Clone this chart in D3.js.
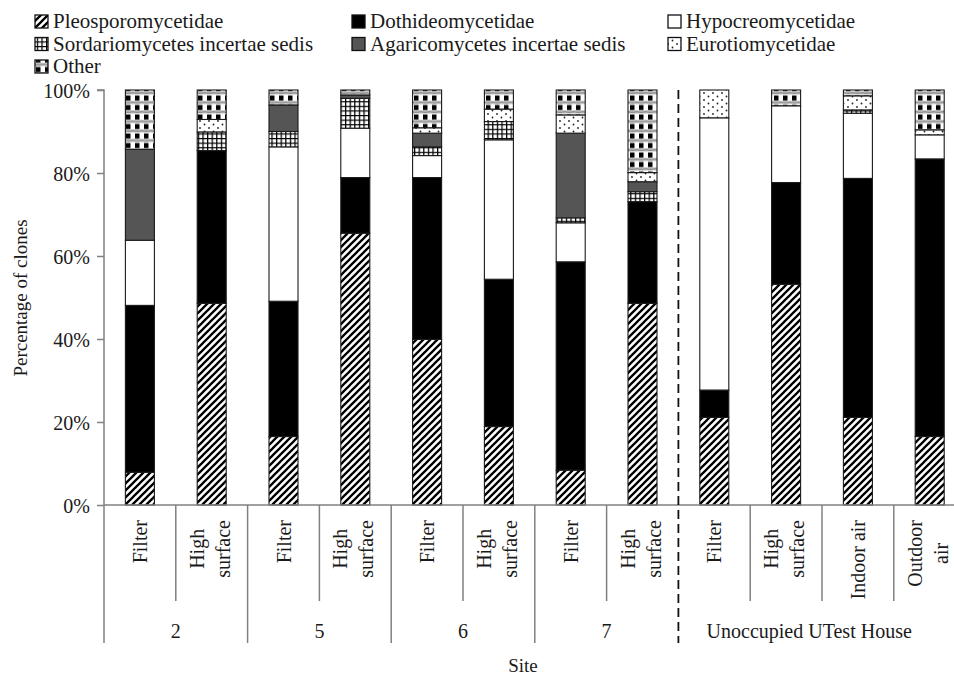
<!DOCTYPE html>
<html>
<head>
<meta charset="utf-8">
<script src="https://cdn.jsdelivr.net/npm/d3@7/dist/d3.min.js"></script>
<style>
  html, body { margin: 0; padding: 0; background: #fff; }
  svg { display: block; }
  text { font-family: "Liberation Serif", "Times New Roman", serif; fill: #1a1a1a; }
</style>
</head>
<body>
<svg id="chart" width="954" height="676"></svg>
<script>
// ---- data ----
const categories = ["Filter", "High\nsurface", "Filter", "High\nsurface", "Filter", "High\nsurface",
                    "Filter", "High\nsurface", "Filter", "High\nsurface", "Indoor air", "Outdoor\nair"];
const siteNames = ["2", "5", "6", "7", "Unoccupied UTest House"];
const siteSpans = [2, 2, 2, 2, 4]; // number of categories in each site
const seriesNames = ["Pleosporomycetidae", "Dothideomycetidae", "Hypocreomycetidae",
                     "Sordariomycetes incertae sedis", "Agaricomycetes incertae sedis",
                     "Eurotiomycetidae", "Other"];
const pleo  = [7.9, 48.6, 16.5, 65.5, 39.9, 18.9, 8.4, 48.6, 21.1, 53.2, 21.1, 16.5];
const doth  = [40.2, 36.8, 32.6, 13.4, 39.0, 35.5, 50.2, 24.5, 6.6, 24.5, 57.6, 66.9];
const hypo  = [15.7, 0, 37.2, 11.9, 5.3, 33.6, 9.4, 0, 65.6, 18.5, 15.7, 5.8];
const sord  = [0, 4.5, 3.7, 7.2, 2.1, 4.4, 1.2, 2.4, 0, 0, 0.8, 0];
const agar  = [21.9, 0, 6.4, 0.8, 3.3, 0, 20.4, 2.4, 0, 0, 0, 0];
const euro  = [0, 3.0, 0, 0, 1.3, 3.0, 4.4, 2.2, 6.7, 0, 3.4, 1.2];
const other = [14.3, 7.1, 3.6, 1.2, 9.1, 4.6, 6.0, 19.9, 0, 3.8, 1.4, 9.6];
const yTicks = [0, 20, 40, 60, 80, 100];

const seriesValues = [pleo, doth, hypo, sord, agar, euro, other];
const table = categories.map((c, i) => {
  const row = { idx: i };
  seriesNames.forEach((s, k) => row[s] = seriesValues[k][i]);
  return row;
});

// ---- setup ----
const svg = d3.select("#chart");
const x0 = 104, step = 71.8;
const x = d3.scaleBand().domain(d3.range(categories.length))
  .range([x0, x0 + step * categories.length]).padding(0);
const barW = x.bandwidth() * 0.404;
const y = d3.scaleLinear().domain([0, 100]).range([505, 90]);

// patterns
const defs = svg.append("defs");
const pPleo = defs.append("pattern").attr("id", "pPleo").attr("patternUnits", "userSpaceOnUse")
  .attr("width", 7).attr("height", 7);
pPleo.append("rect").attr("width", 7).attr("height", 7).attr("fill", "#fff");
pPleo.append("path").attr("d", "M-1,8 L8,-1 M-1,1 L1,-1 M6,8 L8,6")
  .attr("stroke", "#000").attr("stroke-width", 2.3);

const pSord = defs.append("pattern").attr("id", "pSord").attr("patternUnits", "userSpaceOnUse")
  .attr("width", 4.6).attr("height", 4.6);
pSord.append("rect").attr("width", 4.6).attr("height", 4.6).attr("fill", "#fff");
pSord.append("path").attr("d", "M0,0.6 H4.6 M0.6,0 V4.6")
  .attr("stroke", "#000").attr("stroke-width", 1.3);

const pEuro = defs.append("pattern").attr("id", "pEuro").attr("patternUnits", "userSpaceOnUse")
  .attr("width", 9).attr("height", 7);
pEuro.append("rect").attr("width", 9).attr("height", 7).attr("fill", "#fff");
pEuro.append("circle").attr("cx", 2).attr("cy", 2).attr("r", 0.9).attr("fill", "#222");
pEuro.append("circle").attr("cx", 6.5).attr("cy", 5.5).attr("r", 0.9).attr("fill", "#222");

const pOther = defs.append("pattern").attr("id", "pOther").attr("patternUnits", "userSpaceOnUse")
  .attr("width", 9).attr("height", 9.5);
pOther.append("rect").attr("width", 9).attr("height", 9.5).attr("fill", "#fff");
pOther.append("rect").attr("x", 0).attr("y", 0.5).attr("width", 4.5).attr("height", 5).attr("fill", "#000");
pOther.append("rect").attr("x", 0).attr("y", 6.2).attr("width", 9).attr("height", 2.6).attr("fill", "#8c8c8c");
pOther.append("path").attr("d", "M0,7.5 Q2.25,6 4.5,7.5 T9,7.5").attr("stroke", "#bbb")
  .attr("stroke-width", 0.8).attr("fill", "none");

const fills = ["url(#pPleo)", "#000", "#fff", "url(#pSord)", "#555555", "url(#pEuro)", "url(#pOther)"];

// ---- bars ----
const stack = d3.stack().keys(seriesNames);
const stacked = stack(table);
const gBars = svg.append("g");
stacked.forEach((layer, k) => {
  gBars.selectAll(null).data(layer.filter(d => d[1] - d[0] > 0)).enter().append("rect")
    .attr("x", d => x(d.data.idx) + (x.bandwidth() - barW) / 2)
    .attr("y", d => y(d[1]))
    .attr("width", barW)
    .attr("height", d => y(d[0]) - y(d[1]))
    .attr("fill", fills[k])
    .attr("stroke", "#1a1a1a")
    .attr("stroke-width", 1.1);
});

// ---- y axis ----
const yAxis = svg.append("g").attr("transform", `translate(${x0},0)`)
  .call(d3.axisLeft(y).tickValues(yTicks).tickSize(7).tickPadding(7).tickFormat(d => d + "%"));
yAxis.select(".domain").attr("stroke", "#808080").attr("stroke-width", 1.5)
  .attr("d", `M-7,${y(100)}H0V${y(0)}`);
yAxis.selectAll(".tick line").attr("stroke", "#808080").attr("stroke-width", 1.5);
yAxis.selectAll(".tick text").attr("font-size", 20)
  .attr("font-family", "Liberation Serif, serif").attr("fill", "#1a1a1a").attr("dy", "0.35em");

svg.append("text").attr("transform", `translate(27,298) rotate(-90)`)
  .attr("text-anchor", "middle").attr("font-size", 19).text("Percentage of clones");

// ---- x axis ----
const xEnd = x0 + step * categories.length;
svg.append("line").attr("x1", x0).attr("x2", xEnd).attr("y1", y(0)).attr("y2", y(0))
  .attr("stroke", "#808080").attr("stroke-width", 1.5);

// site boundaries
const siteStarts = [];
let acc = 0;
siteSpans.forEach(s => { siteStarts.push(acc); acc += s; });
const boundaryIdx = new Set(siteStarts.concat([categories.length]));
const dashedIdx = siteStarts[siteStarts.length - 1];

d3.range(categories.length + 1).forEach(i => {
  const xx = i < categories.length ? x(i) : xEnd;
  if (i === dashedIdx) return;
  const long = boundaryIdx.has(i);
  svg.append("line").attr("x1", xx).attr("x2", xx).attr("y1", y(0)).attr("y2", long ? 643 : 601)
    .attr("stroke", "#808080").attr("stroke-width", 1.5);
});

// dashed divider
svg.append("line").attr("x1", x(dashedIdx)).attr("x2", x(dashedIdx))
  .attr("y1", y(100)).attr("y2", 643)
  .attr("stroke", "#111").attr("stroke-width", 1.8).attr("stroke-dasharray", "9,5");

// category labels (rotated)
categories.forEach((c, i) => {
  const lines = c.split("\n");
  const cx = x(i) + x.bandwidth() / 2;
  const g = svg.append("g").attr("transform", `translate(${cx},520) rotate(-90)`);
  const offs = lines.length === 1 ? [7] : [-8, 18];
  const texts = lines.map((l, j) => g.append("text").attr("font-size", 20)
    .attr("y", offs[j]).text(l));
  const maxLen = d3.max(texts, t => t.node().getComputedTextLength());
  texts.forEach(t => t.attr("text-anchor", "middle").attr("x", -maxLen / 2));
});

// site labels
siteNames.forEach((s, k) => {
  const a = siteStarts[k], b = a + siteSpans[k];
  let cx = (x(a) + (b < categories.length ? x(b) : xEnd)) / 2;
  if (b >= categories.length) cx = (x(a) + 954) / 2 - 7;
  svg.append("text").attr("x", cx).attr("y", 638).attr("text-anchor", "middle")
    .attr("font-size", 20).text(s);
});

svg.append("text").attr("x", 523).attr("y", 672).attr("text-anchor", "middle")
  .attr("font-size", 19).text("Site");

// ---- legend ----
const legCols = [35, 352, 668];
const legRows = [28, 50.5, 73];
seriesNames.forEach((s, k) => {
  const col = k % 3, row = Math.floor(k / 3);
  const lx = legCols[col], ly = legRows[row];
  svg.append("rect").attr("x", lx).attr("y", ly - 13).attr("width", 13).attr("height", 13)
    .attr("fill", fills[k]).attr("stroke", "#111").attr("stroke-width", 1.3);
  svg.append("text").attr("x", lx + 18).attr("y", ly).attr("font-size", 21).text(s);
});
</script>
</body>
</html>
